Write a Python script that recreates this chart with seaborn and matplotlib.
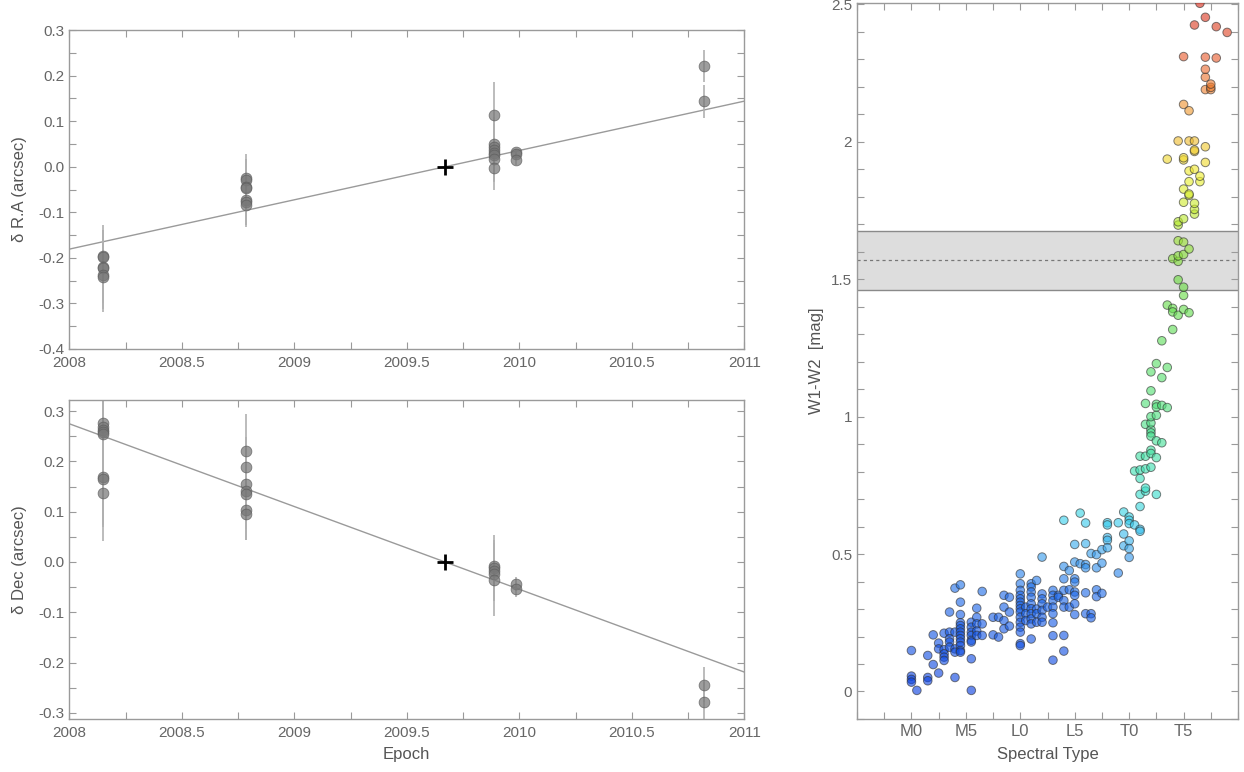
import matplotlib
matplotlib.use("Agg")
import numpy as np
import pandas as pd
import matplotlib.pyplot as plt
import seaborn as sns
from matplotlib.colors import LinearSegmentedColormap, Normalize
from matplotlib.ticker import MultipleLocator, FuncFormatter

# ----------------------------
# Astrometry (left panels)
# ----------------------------
ra_epochs = [2008.149, 2008.784, 2009.889, 2009.984, 2010.822]
ra_offsets = [
    [-0.195, -0.199, -0.219, -0.223, -0.237, -0.241],
    [-0.024, -0.029, -0.044, -0.047, -0.072, -0.077, -0.085],
    [0.113, 0.050, 0.044, 0.037, 0.031, 0.026, 0.018, -0.002],
    [0.033, 0.028, 0.015],
    [0.221, 0.144],
]
ra_errors = [
    [0.067, 0.060, 0.080, 0.070, 0.075, 0.077],
    [0.052, 0.045, 0.060, 0.050, 0.055, 0.050, 0.048],
    [0.073, 0.060, 0.050, 0.055, 0.050, 0.060, 0.050, 0.049],
    [0.006, 0.010, 0.012],
    [0.035, 0.036],
]

dec_epochs = [2008.149, 2008.784, 2009.889, 2009.984, 2010.822]
dec_offsets = [
    [0.277, 0.269, 0.263, 0.259, 0.255, 0.169, 0.164, 0.138],
    [0.221, 0.188, 0.155, 0.141, 0.136, 0.104, 0.096],
    [-0.007, -0.012, -0.017, -0.023, -0.035],
    [-0.044, -0.053],
    [-0.244, -0.279],
]
dec_errors = [
    [0.060, 0.050, 0.060, 0.050, 0.050, 0.100, 0.090, 0.096],
    [0.074, 0.060, 0.070, 0.060, 0.070, 0.061, 0.053],
    [0.061, 0.050, 0.060, 0.055, 0.073],
    [0.014, 0.017],
    [0.035, 0.040],
]

# fitted proper motion (arcsec/yr) through the reference epoch
ref_epoch = 2009.67
ra_pm = 0.1083
dec_pm = -0.1645

# ----------------------------
# W1-W2 vs spectral type (right panel); M0=0, L0=10, T0=20
# ----------------------------
spt_cols = [0.0, 0.5, 1.5, 2.0, 2.5, 3.0, 3.5, 4.0, 4.5, 5.5, 6.0, 6.5, 7.5, 8.0,
            8.5, 9.0, 10.0, 10.5, 11.0, 11.5, 12.0, 12.5, 13.0, 13.5, 14.0, 14.5,
            15.0, 15.5, 16.0, 16.5, 17.0, 17.5, 18.0, 19.0, 19.5, 20.0, 20.5,
            21.0, 21.5, 22.0, 22.5, 23.0, 23.5, 24.0, 24.5, 25.0, 25.5, 26.0,
            26.5, 27.0, 27.5, 28.0, 29.0]
w1w2_cols = [
    [0.149, 0.056, 0.044, 0.034],
    [0.004],
    [0.131, 0.051, 0.039],
    [0.206, 0.098],
    [0.176, 0.155, 0.067],
    [0.212, 0.152, 0.137, 0.125, 0.113],
    [0.289, 0.216, 0.192, 0.180, 0.161],
    [0.376, 0.216, 0.155, 0.143, 0.051],
    [0.388, 0.325, 0.280, 0.250, 0.240, 0.228, 0.216, 0.204, 0.192, 0.180, 0.167, 0.149, 0.143],
    [0.252, 0.234, 0.216, 0.204, 0.186, 0.180, 0.119, 0.004],
    [0.303, 0.270, 0.246, 0.220, 0.204],
    [0.364, 0.246, 0.204],
    [0.270, 0.206],
    [0.270, 0.198],
    [0.350, 0.307, 0.258, 0.228],
    [0.343, 0.289, 0.238],
    [0.428, 0.392, 0.368, 0.350, 0.337, 0.325, 0.313, 0.301, 0.289, 0.270, 0.252, 0.234, 0.216, 0.174, 0.167],
    [0.307, 0.283, 0.258],
    [0.392, 0.380, 0.362, 0.343, 0.319, 0.301, 0.283, 0.264, 0.246, 0.191],
    [0.404, 0.300, 0.283, 0.252],
    [0.489, 0.355, 0.337, 0.319, 0.295, 0.270, 0.252],
    [0.307],
    [0.368, 0.350, 0.331, 0.307, 0.283, 0.250, 0.203, 0.114],
    [0.350, 0.343],
    [0.623, 0.455, 0.410, 0.368, 0.331, 0.307, 0.204, 0.147],
    [0.440, 0.370, 0.307],
    [0.535, 0.471, 0.410, 0.398, 0.362, 0.350, 0.319, 0.280],
    [0.649, 0.465],
    [0.613, 0.538, 0.462, 0.450, 0.359, 0.283],
    [0.502, 0.283, 0.268],
    [0.498, 0.450, 0.370, 0.345],
    [0.516, 0.467, 0.357],
    [0.614, 0.606, 0.560, 0.550, 0.523],
    [0.614, 0.431],
    [0.653, 0.573, 0.530],
    [0.635, 0.623, 0.611, 0.548, 0.520, 0.488],
    [0.606, 0.802],
    [0.775, 0.717, 0.673, 0.590, 0.583, 0.806, 0.856],
    [0.729, 0.810, 0.856, 0.740, 0.972, 1.048],
    [0.816, 0.878, 0.866, 0.953, 0.941, 0.929, 0.977, 1.000, 1.094, 1.163],
    [0.717, 0.851, 0.912, 1.005, 1.045, 1.035, 1.193],
    [0.905, 1.041, 1.142, 1.276],
    [1.033, 1.179, 1.406, 1.937],
    [1.317, 1.394, 1.381, 1.575],
    [1.369, 1.498, 1.565, 1.585, 1.640, 1.697, 1.709, 2.003],
    [1.390, 1.441, 1.471, 1.590, 1.635, 1.720, 1.780, 1.828, 1.934, 1.942, 2.136, 2.310],
    [1.378, 1.610, 1.805, 1.810, 1.855, 1.894, 2.003, 2.113],
    [1.737, 1.754, 1.776, 1.900, 1.965, 1.970, 2.003, 2.425],
    [1.855, 1.875, 2.504],
    [1.925, 1.982, 2.190, 2.235, 2.264, 2.308, 2.453],
    [2.190, 2.198, 2.210],
    [2.305, 2.419],
    [2.398],
]
spt_ticks = [0, 5, 10, 15, 20, 25]
spt_labels = ["M0", "M5", "L0", "L5", "T0", "T5"]

# T-dwarf colour band: mean and limits
band_low, band_mid, band_high = 1.46, 1.57, 1.677


def expand(epochs, offsets, errors):
    rows = []
    for ep, offs, errs in zip(epochs, offsets, errors):
        for o, e in zip(offs, errs):
            rows.append({"epoch": ep, "offset": o, "err": e})
    return pd.DataFrame(rows)


def style_axes(ax):
    for sp in ax.spines.values():
        sp.set_color("#9a9a9a")
        sp.set_linewidth(1.0)
    ax.tick_params(which="both", direction="in", top=True, right=True,
                   colors="#9a9a9a", labelcolor="#666666", labelsize=11,
                   length=5, width=0.8)


def astrometry_panel(ax, df, pm, ylim, ylabel):
    t = np.array([2008.0, 2011.0])
    sns.lineplot(x=t, y=pm * (t - ref_epoch), color="#9a9a9a", lw=1.0, ax=ax, zorder=1)
    ax.errorbar(df["epoch"], df["offset"], yerr=df["err"], fmt="none",
                ecolor="#b0b0b0", elinewidth=1.2, capsize=0, zorder=2)
    sns.scatterplot(data=df, x="epoch", y="offset", s=60, color="#777777",
                    alpha=0.72, edgecolor="#5a5a5a", linewidth=0.6, ax=ax, zorder=3)
    ax.plot([ref_epoch], [0.0], marker="+", color="black", ms=11, mew=2.0, zorder=4)
    ax.set_xlim(2008, 2011)
    ax.set_ylim(*ylim)
    ax.xaxis.set_major_locator(MultipleLocator(0.5))
    ax.xaxis.set_minor_locator(MultipleLocator(0.25))
    ax.yaxis.set_major_locator(MultipleLocator(0.1))
    ax.yaxis.set_minor_locator(MultipleLocator(0.05))
    ax.xaxis.set_major_formatter(FuncFormatter(lambda v, p: f"{v:g}"))
    ax.yaxis.set_major_formatter(FuncFormatter(lambda v, p: f"{v:.1f}" if abs(v) > 1e-9 else "0.0"))
    ax.set_ylabel(ylabel, fontsize=12, color="#555555", labelpad=8)
    ax.set_xlabel("")
    style_axes(ax)
    ax.tick_params(axis="x", which="major", pad=5)


def main():
    sns.set_style("ticks")
    plt.rcParams["font.family"] = ["Liberation Sans", "DejaVu Sans"]
    plt.rcParams["axes.unicode_minus"] = False

    fig = plt.figure(figsize=(12.44, 7.72), dpi=100)
    ax_ra = fig.add_axes([0.0557, 0.548, 0.5426, 0.413])
    ax_dec = fig.add_axes([0.0557, 0.0687, 0.5426, 0.4132])
    ax_col = fig.add_axes([0.6889, 0.0687, 0.3063, 0.9274])

    ra_df = expand(ra_epochs, ra_offsets, ra_errors)
    dec_df = expand(dec_epochs, dec_offsets, dec_errors)
    astrometry_panel(ax_ra, ra_df, ra_pm, (-0.4, 0.3), "δ R.A (arcsec)")
    astrometry_panel(ax_dec, dec_df, dec_pm, (-0.312, 0.322), "δ Dec (arcsec)")
    ax_dec.set_xlabel("Epoch", fontsize=12, color="#555555", labelpad=5)

    # colour-type diagram
    spt = [s for s, vals in zip(spt_cols, w1w2_cols) for _ in vals]
    w12 = [v for vals in w1w2_cols for v in vals]
    col_df = pd.DataFrame({"spt": spt, "w12": w12})

    nodes = [(0.00, "#0a3fe0"), (0.14, "#1f6ae8"), (0.20, "#3aa0ec"),
             (0.248, "#3ad0ec"), (0.30, "#3ae0c0"), (0.40, "#50e080"),
             (0.60, "#6cdc40"), (0.688, "#b8e830"), (0.752, "#f0f030"),
             (0.80, "#f0c030"), (0.86, "#f09030"), (0.92, "#e86030"),
             (1.00, "#d83020")]
    cmap = LinearSegmentedColormap.from_list("w12", nodes)

    ax_col.axhspan(band_low, band_high, facecolor="#dddddd", edgecolor="none", zorder=0)
    ax_col.axhline(band_low, color="#8a8a8a", lw=1.0, zorder=1)
    ax_col.axhline(band_high, color="#8a8a8a", lw=1.0, zorder=1)
    ax_col.axhline(band_mid, color="#777777", lw=0.9, ls=(0, (2.5, 2.5)), zorder=1)

    sns.scatterplot(data=col_df, x="spt", y="w12", hue="w12", palette=cmap,
                    hue_norm=Normalize(0.0, 2.5), legend=False, s=38, alpha=0.62,
                    edgecolor="#303030", linewidth=0.7, ax=ax_col, zorder=3)
    ax_col.set_xlim(-5, 30)
    ax_col.set_ylim(-0.1, 2.505)
    ax_col.set_xticks(spt_ticks)
    ax_col.set_xticklabels(spt_labels)
    ax_col.xaxis.set_minor_locator(MultipleLocator(2.5))
    ax_col.yaxis.set_major_locator(MultipleLocator(0.5))
    ax_col.yaxis.set_minor_locator(MultipleLocator(0.1))
    ax_col.yaxis.set_major_formatter(FuncFormatter(lambda v, p: f"{v:g}"))
    ax_col.set_xlabel("Spectral Type", fontsize=12, color="#555555", labelpad=6)
    ax_col.set_ylabel("W1-W2  [mag]", fontsize=12, color="#555555", labelpad=5)
    style_axes(ax_col)
    ax_col.tick_params(axis="x", which="major", labelsize=12)

    fig.savefig("out.png", dpi=100)


if __name__ == "__main__":
    main()
